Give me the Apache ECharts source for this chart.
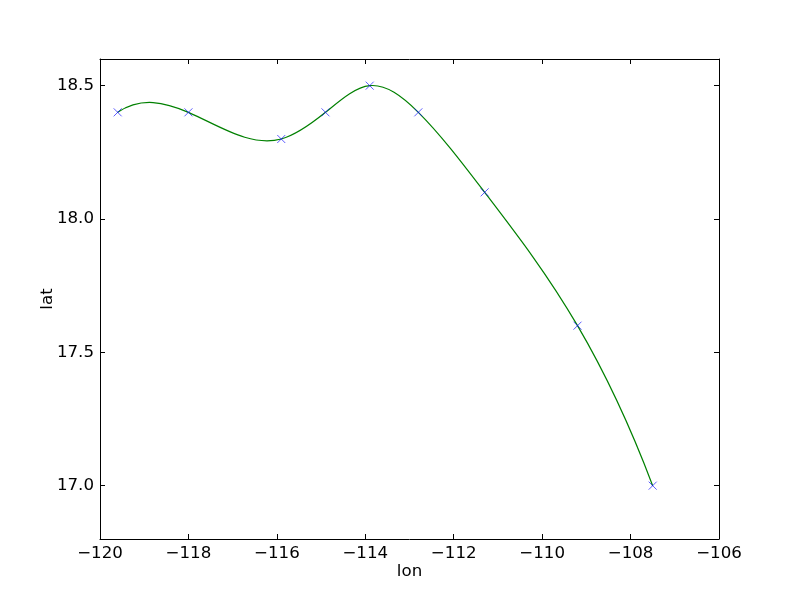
<!DOCTYPE html>
<html>
<head>
<meta charset="utf-8">
<script src="https://cdn.jsdelivr.net/npm/echarts@6/dist/echarts.min.js"></script>
<style>html,body{margin:0;padding:0;background:#fff}#c{width:800px;height:600px}</style>
</head>
<body>
<div id="c"></div>
<script>
var lon = [-119.6, -118.0, -115.9, -114.9, -113.9, -112.8, -111.3, -109.2, -107.5];
var lat = [18.4, 18.4, 18.3, 18.4, 18.5, 18.4, 18.1, 17.6, 17.0];
var xTicks = [-120, -118, -116, -114, -112, -110, -108, -106];
var yTicks = [17.0, 17.5, 18.0, 18.5];

var pts = lon.map(function (v, i) { return [v, lat[i]]; });
var font = 'DejaVu Sans';
var fmtX = function (v) { return String(v).replace('-', '\u2212'); };
var fmtY = function (v) { return v.toFixed(1); };

// not-a-knot cubic spline y(x) through the data points: end slopes of each segment
function spline(x, y) {
  var n = x.length, h = [], d = [], i, j, k;
  for (i = 0; i < n - 1; i++) { h.push(x[i + 1] - x[i]); d.push((y[i + 1] - y[i]) / h[i]); }
  var A = [], b = [];
  for (i = 0; i < n; i++) { A.push(new Array(n).fill(0)); b.push(0); }
  A[0][0] = h[1]; A[0][1] = -(h[0] + h[1]); A[0][2] = h[0];
  for (i = 1; i < n - 1; i++) {
    A[i][i - 1] = h[i - 1]; A[i][i] = 2 * (h[i - 1] + h[i]); A[i][i + 1] = h[i];
    b[i] = 6 * (d[i] - d[i - 1]);
  }
  A[n - 1][n - 3] = h[n - 2]; A[n - 1][n - 2] = -(h[n - 3] + h[n - 2]); A[n - 1][n - 1] = h[n - 3];
  for (k = 0; k < n; k++) {
    var p = k;
    for (i = k + 1; i < n; i++) if (Math.abs(A[i][k]) > Math.abs(A[p][k])) p = i;
    var t = A[k]; A[k] = A[p]; A[p] = t; t = b[k]; b[k] = b[p]; b[p] = t;
    for (i = k + 1; i < n; i++) {
      var f = A[i][k] / A[k][k];
      for (j = k; j < n; j++) A[i][j] -= f * A[k][j];
      b[i] -= f * b[k];
    }
  }
  var M = new Array(n).fill(0);
  for (i = n - 1; i >= 0; i--) {
    var s = b[i];
    for (j = i + 1; j < n; j++) s -= A[i][j] * M[j];
    M[i] = s / A[i][i];
  }
  var segs = [];
  for (i = 0; i < n - 1; i++) {
    segs.push({ h: h[i], m0: d[i] - h[i] * (2 * M[i] + M[i + 1]) / 6, m1: d[i] + h[i] * (M[i] + 2 * M[i + 1]) / 6 });
  }
  return segs;
}
var sp = spline(lon, lat);

function xa(pos, labels) {
  return {
    type: 'value', position: pos, min: -120, max: -106,
    axisLine: { show: true, onZero: false, lineStyle: { color: '#000', width: 1 } },
    axisTick: { show: true, inside: true, length: 5, customValues: xTicks, lineStyle: { color: '#000' } },
    axisLabel: { show: labels, customValues: xTicks, formatter: fmtX, color: '#000', fontFamily: font, fontSize: 16.67, margin: 6 },
    splitLine: { show: false },
    name: labels ? 'lon' : '', nameLocation: 'middle', nameGap: 24, nameMoveOverlap: false,
    nameTextStyle: { color: '#000', fontFamily: font, fontSize: 16.67 }
  };
}
function ya(pos, labels) {
  return {
    type: 'value', position: pos, min: 16.8, max: 18.6,
    axisLine: { show: true, onZero: false, lineStyle: { color: '#000', width: 1 } },
    axisTick: { show: true, inside: true, length: 5, customValues: yTicks, lineStyle: { color: '#000' } },
    axisLabel: { show: labels, customValues: yTicks, formatter: fmtY, color: '#000', fontFamily: font, fontSize: 16.67, margin: 6 },
    splitLine: { show: false },
    name: labels ? 'lat' : '', nameLocation: 'middle', nameGap: 44, nameRotate: 90, nameMoveOverlap: false,
    nameTextStyle: { color: '#000', fontFamily: font, fontSize: 16.67 }
  };
}

var chart = echarts.init(document.getElementById('c'), null, { renderer: 'canvas' });
chart.setOption({
  animation: false,
  backgroundColor: '#fff',
  grid: { left: 100, right: 81, top: 59, bottom: 61 },
  xAxis: [xa('bottom', true), xa('top', false)],
  yAxis: [ya('left', true), ya('right', false)],
  series: [
    {
      type: 'custom', data: pts, z: 2,
      renderItem: function (params, api) {
        var i = params.dataIndex;
        if (i >= lon.length - 1) return null;
        var s = sp[i], h = s.h;
        var p0 = api.coord([lon[i], lat[i]]);
        var c1 = api.coord([lon[i] + h / 3, lat[i] + s.m0 * h / 3]);
        var c2 = api.coord([lon[i + 1] - h / 3, lat[i + 1] - s.m1 * h / 3]);
        var p1 = api.coord([lon[i + 1], lat[i + 1]]);
        return {
          type: 'bezierCurve',
          shape: { x1: p0[0], y1: p0[1], cpx1: c1[0], cpy1: c1[1], cpx2: c2[0], cpy2: c2[1], x2: p1[0], y2: p1[1] },
          style: { stroke: '#008000', fill: null, lineWidth: 1.2 }
        };
      }
    },
    {
      type: 'scatter', data: pts, symbol: 'path://M0,0L10,10M10,0L0,10', symbolSize: 8,
      itemStyle: { color: 'none', borderColor: '#0000ff', borderWidth: 0.8 }, z: 3
    }
  ]
});
</script>
</body>
</html>
